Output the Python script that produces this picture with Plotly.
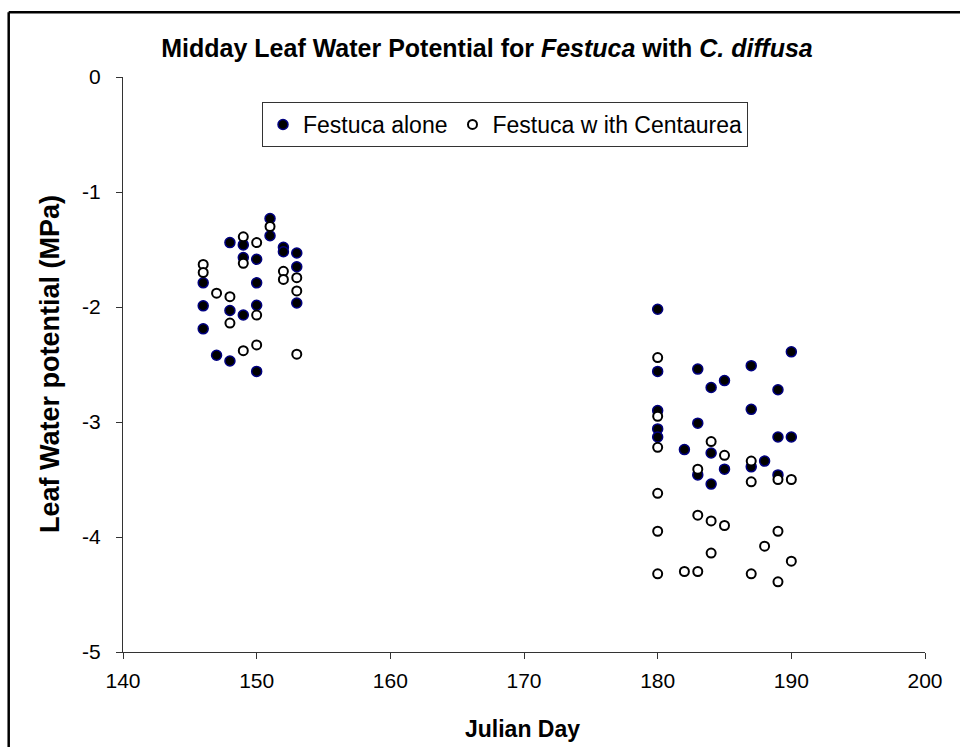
import plotly.graph_objects as go

# Midday leaf water potential (MPa) by Julian day
alone_day = [146, 146, 146, 147, 148, 148, 148, 149, 149, 149, 150, 150, 150, 150,
             151, 151, 152, 152, 153, 153, 153,
             180, 180, 180, 180, 180, 182, 183, 183, 183, 184, 184, 184, 185, 185,
             187, 187, 187, 188, 189, 189, 189, 190, 190]
alone_lwp = [-1.79, -1.99, -2.19, -2.42, -1.44, -2.03, -2.47, -1.46, -1.57, -2.07,
             -1.585, -1.79, -1.985, -2.56, -1.23, -1.38, -1.48, -1.52, -1.53, -1.65, -1.965,
             -2.02, -2.56, -2.90, -3.06, -3.13, -3.24, -2.54, -3.01, -3.46, -2.70, -3.27,
             -3.54, -2.64, -3.41, -2.51, -2.89, -3.39, -3.34, -2.72, -3.13, -3.46, -2.39, -3.13]

cent_day = [146, 146, 147, 148, 148, 149, 149, 149, 150, 150, 150, 151, 152, 152,
            153, 153, 153,
            180, 180, 180, 180, 180, 180, 182, 183, 183, 183, 184, 184, 184, 185, 185,
            187, 187, 187, 188, 189, 189, 189, 190, 190]
cent_lwp = [-1.63, -1.70, -1.88, -1.91, -2.14, -1.39, -1.62, -2.38, -1.44, -2.07, -2.33,
            -1.30, -1.69, -1.76, -1.745, -1.86, -2.41,
            -2.44, -2.95, -3.22, -3.62, -3.95, -4.32, -4.30, -3.41, -3.81, -4.30, -3.17,
            -3.86, -4.14, -3.29, -3.90, -3.34, -3.52, -4.32, -4.08, -3.50, -3.95, -4.39,
            -3.50, -4.21]

x_ticks = [140, 150, 160, 170, 180, 190, 200]
y_ticks = [0, -1, -2, -3, -4, -5]

FONT = "Arial, Liberation Sans, sans-serif"

# Plot-area geometry in pixels (used to place the axis titles and frame)
W, H = 960, 747
L, R, T, B = 123, 35, 77, 95
PW, PH = W - L - R, H - T - B


def px_to_paper_x(px):
    return (px - L) / PW


def px_to_paper_y(py):
    return (H - B - py) / PH


fig = go.Figure()
fig.add_trace(go.Scatter(
    x=alone_day, y=alone_lwp, mode="markers", name="Festuca alone",
    marker=dict(symbol="circle", size=10, color="black",
                line=dict(color="#000080", width=1.5)),
))
fig.add_trace(go.Scatter(
    x=cent_day, y=cent_lwp, mode="markers", name="Festuca w ith Centaurea",
    marker=dict(symbol="circle", size=9, color="white",
                line=dict(color="black", width=2)),
))

axis_common = dict(
    showgrid=False, zeroline=False, showline=True, linecolor="#333333", linewidth=1,
    ticks="outside", ticklen=6, tickwidth=1, tickcolor="#333333",
    tickfont=dict(family=FONT, size=21, color="black"),
    automargin=False,
)

fig.update_layout(
    width=W, height=H,
    margin=dict(l=L, r=R, t=T, b=B),
    paper_bgcolor="white", plot_bgcolor="white",
    font=dict(family=FONT, color="black"),
    title=dict(
        text="<b>Midday Leaf Water Potential for <i>Festuca</i> with <i>C. diffusa</i></b>",
        font=dict(family=FONT, size=25, color="black"),
        x=487 / W, xanchor="center", xref="container",
        y=1 - 48 / H, yanchor="middle", yref="container",
    ),
    xaxis=dict(
        range=[140, 200], tickvals=x_ticks, ticktext=[str(v) for v in x_ticks],
        ticklabelstandoff=4,
        **axis_common,
    ),
    yaxis=dict(
        range=[-5, 0], tickvals=y_ticks, ticktext=[str(v) for v in y_ticks],
        ticklabelstandoff=11,
        **axis_common,
    ),
    legend=dict(
        orientation="h", x=px_to_paper_x(262), xanchor="left",
        y=px_to_paper_y(102), yanchor="top",
        bgcolor="white", bordercolor="#333333", borderwidth=1,
        font=dict(family=FONT, size=23, color="black"),
        itemwidth=30,
    ),
    showlegend=True,
)

# Axis titles
fig.add_annotation(
    text="<b>Julian Day</b>", xref="paper", yref="paper",
    x=px_to_paper_x(522), y=px_to_paper_y(729), xanchor="center", yanchor="middle",
    showarrow=False, font=dict(family=FONT, size=23, color="black"),
)
fig.add_annotation(
    text="<b>Leaf Water potential (MPa)</b>", xref="paper", yref="paper",
    x=px_to_paper_x(50), y=px_to_paper_y(364), xanchor="center", yanchor="middle",
    textangle=-90, showarrow=False, font=dict(family=FONT, size=27, color="black"),
)

# Chart frame (left and top edges)
fx = px_to_paper_x(8.7)
fy = px_to_paper_y(12.2)
fig.add_shape(type="line", xref="paper", yref="paper", x0=fx, x1=fx, y0=-0.3, y1=fy,
              line=dict(color="black", width=2.5))
fig.add_shape(type="line", xref="paper", yref="paper", x0=fx, x1=1.1, y0=fy, y1=fy,
              line=dict(color="black", width=2.5))

fig.write_html("out.html")
